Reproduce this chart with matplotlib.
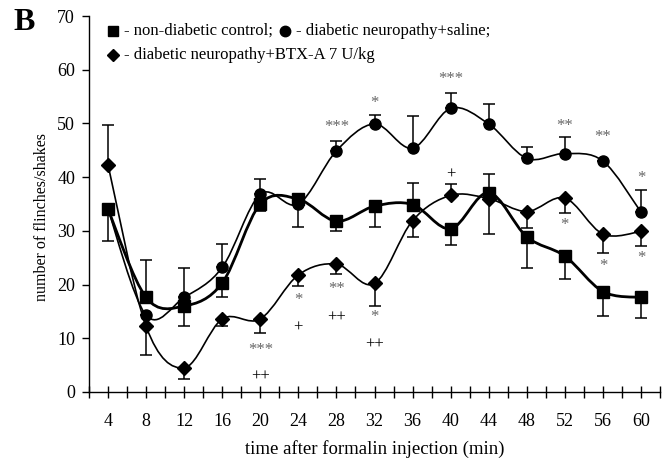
import numpy as np
import matplotlib
matplotlib.use("Agg")
import matplotlib.pyplot as plt
from matplotlib.path import Path
from matplotlib.patches import PathPatch

plt.rcParams["font.family"] = ["Liberation Serif", "DejaVu Serif"]

times = [4, 8, 12, 16, 20, 24, 28, 32, 36, 40, 44, 48, 52, 56, 60]

# mean values
control = [34.0, 17.6, 16.0, 20.3, 35.0, 35.9, 31.8, 34.6, 34.9, 30.4, 37.1, 28.9, 25.3, 18.7, 17.6]
saline = [34.0, 14.3, 17.6, 23.2, 36.8, 35.0, 44.9, 49.9, 45.4, 52.8, 49.9, 43.5, 44.4, 43.0, 33.5]
btx = [42.3, 12.2, 4.5, 13.6, 13.6, 21.8, 23.8, 20.2, 31.9, 36.6, 36.0, 33.6, 36.1, 29.4, 29.9]

# one-sided error bars (lower, upper)
control_lo = [5.8, 0, 3.7, 2.7, 1.3, 0, 1.8, 3.9, 0, 3.0, 0, 5.9, 4.3, 4.5, 3.9]
control_hi = [0, 6.9, 0, 0, 0, 0, 0, 0, 4.1, 0, 3.4, 0, 0, 0, 0]
saline_lo = [0, 0, 0, 0, 0, 4.2, 0, 0, 0, 0, 0, 0, 0, 0, 0]
saline_hi = [0, 0, 5.4, 4.3, 2.9, 0, 1.9, 1.7, 5.9, 2.9, 3.7, 2.2, 3.0, 0, 4.1]
btx_lo = [0, 5.4, 2.0, 1.3, 2.7, 2.1, 1.8, 4.1, 3.1, 0, 6.6, 3.1, 2.8, 3.5, 2.7]
btx_hi = [7.4, 0, 0, 0, 0, 0, 0, 0, 0, 2.1, 0, 0, 0, 0, 0]

# significance marks: (time, level, text)
stars = [(20, 7.8, "***"), (24, 17.1, "*"), (28, 19.1, "**"), (28, 49.3, "***"),
         (32, 53.8, "*"), (32, 14.0, "*"), (40, 58.3, "***"), (52, 49.5, "**"),
         (52, 35.0, "*"), (52, 31.1, "*"), (56, 47.5, "**"), (56, 23.5, "*"),
         (60, 39.9, "*"), (60, 24.9, "*")]
plusses = [(20, 2.9, "++"), (24, 12.0, "+"), (28, 13.9, "++"), (32, 8.8, "++"),
           (40, 40.4, "+")]


def smooth_path(x, y):
    # Excel-style smoothed line: cubic Bezier through every point
    x = np.asarray(x, float)
    y = np.asarray(y, float)
    pts = np.column_stack([x, y])
    verts = [pts[0]]
    codes = [Path.MOVETO]
    n = len(pts)
    for i in range(n - 1):
        p0 = pts[max(i - 1, 0)]
        p1 = pts[i]
        p2 = pts[i + 1]
        p3 = pts[min(i + 2, n - 1)]
        verts += [p1 + (p2 - p0) / 6.0, p2 - (p3 - p1) / 6.0, p2]
        codes += [Path.CURVE4] * 3
    return Path(verts, codes)


fig = plt.figure(figsize=(6.67, 4.62), dpi=100)
ax = fig.add_axes([89 / 667, 1 - 392 / 462, 571 / 667, 376 / 462])

series = [
    (saline, saline_lo, saline_hi, "o", 8, 1.2),
    (btx, btx_lo, btx_hi, "D", 6.8, 1.2),
    (control, control_lo, control_hi, "s", 8, 2.0),
]
for vals, lo, hi, marker, ms, lw in series:
    ax.errorbar(times, vals, yerr=[lo, hi], fmt="none", ecolor="black",
                elinewidth=1.1, capsize=4, capthick=1.1, zorder=2)
    ax.add_patch(PathPatch(smooth_path(times, vals), facecolor="none",
                           edgecolor="black", lw=lw, zorder=3))
for vals, lo, hi, marker, ms, lw in series:
    ax.plot(times, vals, linestyle="none", marker=marker, ms=ms,
            color="black", zorder=4)

for t, v, s in stars:
    ax.text(t, v, s, ha="center", va="center", fontsize=12, color="#666666", zorder=1)
for t, v, s in plusses:
    ax.text(t, v, s, ha="center", va="center", fontsize=12, color="black", zorder=1)

ax.set_xlim(2, 62)
ax.set_ylim(0, 70)
ax.set_xticks(times)
ax.set_xticks(np.arange(2, 63, 4), minor=True)
ax.set_yticks(np.arange(0, 71, 10))
ax.tick_params(axis="x", which="both", direction="inout", length=8, width=1,
               pad=11, labelsize=13)
ax.tick_params(axis="y", direction="out", length=5, width=1, pad=5, labelsize=13)
for side in ["top", "right"]:
    ax.spines[side].set_visible(False)
for side in ["left", "bottom"]:
    ax.spines[side].set_linewidth(1.0)

ax.set_xlabel("time after formalin injection (min)", fontsize=13.5)
ax.set_ylabel("number of flinches/shakes", fontsize=11.5)
ax.xaxis.set_label_coords(0.5, -0.128)
ax.yaxis.set_label_coords(-0.068, 0.465)

# legend drawn by hand, as in the original
def px(x, y):
    return x / 667, 1 - y / 462

legend_items = [
    (113, 31, "s", 7, "- non-diabetic control;"),
    (285, 31, "o", 7.5, "- diabetic neuropathy+saline;"),
    (113, 55, "D", 6.5, "- diabetic neuropathy+BTX-A 7 U/kg"),
]
for mx, my, marker, ms, label in legend_items:
    fig.lines.append(plt.Line2D([px(mx, my)[0]], [px(mx, my)[1]], marker=marker,
                                ms=ms, color="black", transform=fig.transFigure))
    fig.text(*px(mx + 11, my), label, fontsize=12, va="center", ha="left")

fig.text(*px(13, 23), "B", fontsize=23, fontweight="bold", va="center", ha="left")

fig.savefig("out.png", dpi=100)
